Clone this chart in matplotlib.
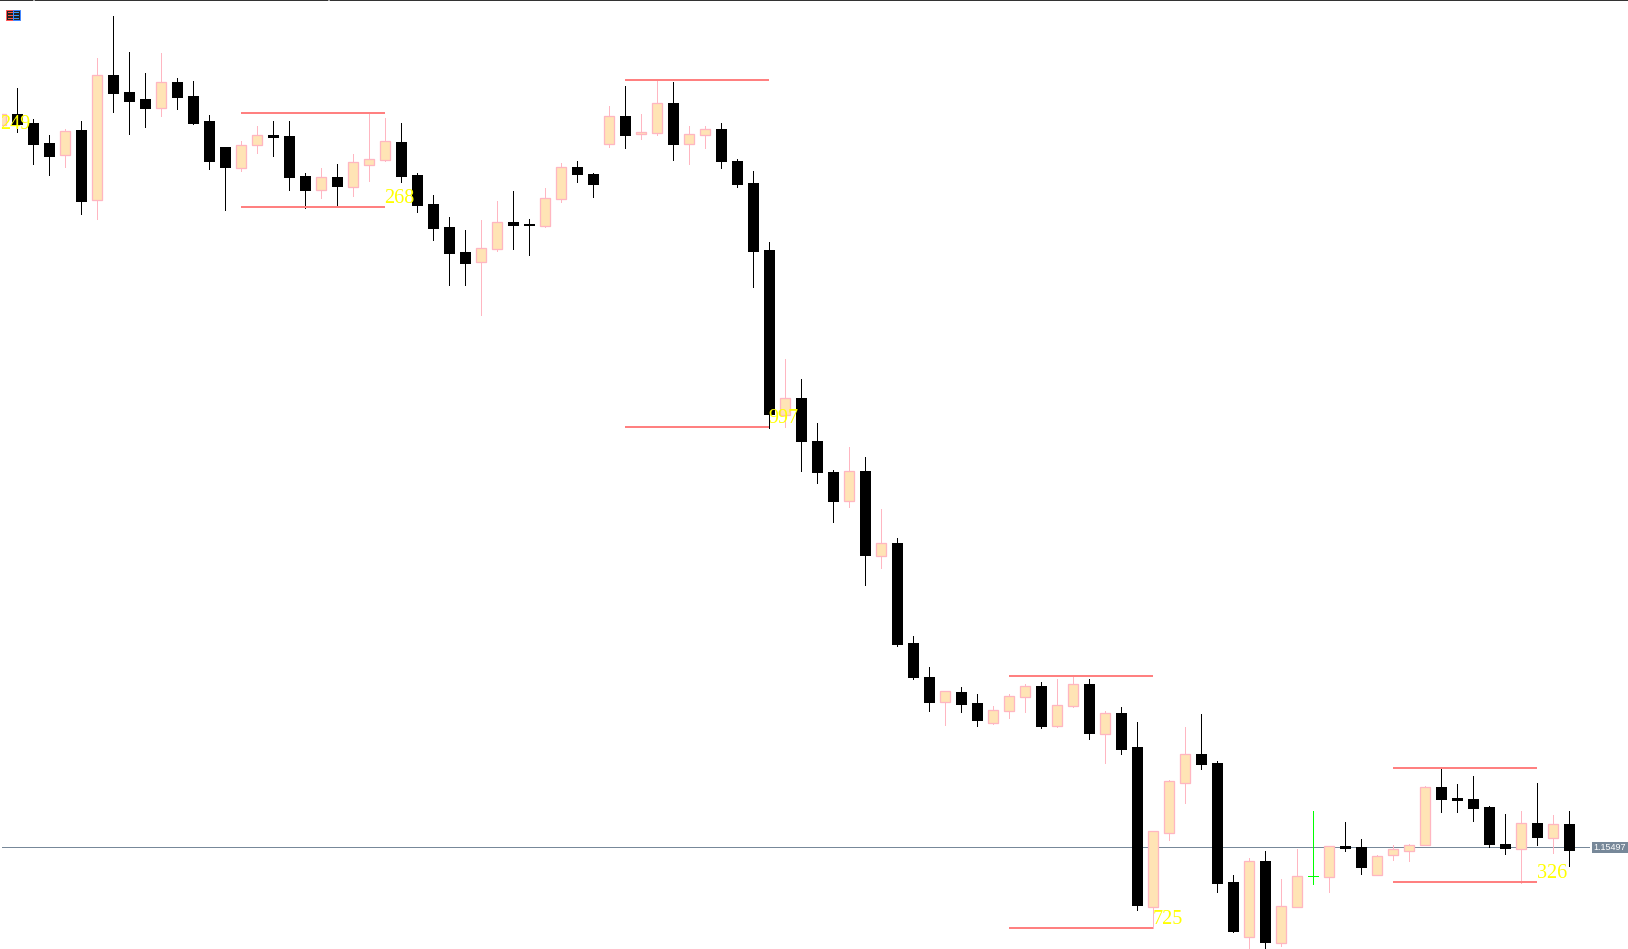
import matplotlib
matplotlib.use("Agg")
import matplotlib.pyplot as plt
from matplotlib.patches import Rectangle

# candle levels (screen rows, so smaller = higher price)
# order: left to right, one value per bar
bull = [1,0,0,0,1,0,1,0,0,0,1,0,0,0,0,1,1,0,0,0,1,0,1,1,1,0,0,0,0,0,1,1,0,0,1,1,0,0,1,0,
        1,1,0,1,1,0,0,0,0,1,0,0,0,1,0,1,0,0,0,1,0,0,1,1,1,0,1,1,0,1,0,0,1,1,1,0,0,0,1,0,
        1,1,2,1,0,0,1,1,1,1,0,0,0,0,0,1,0,1,0]
high = [114,88,119,135,129,121,58,16,52,73,53,78,81,115,147,141,126,121,121,173,
        168,164,154,113,118,123,173,195,217,230,220,201,191,219,188,163,161,173,106,86,
        114,80,82,126,126,123,159,171,242,359,379,423,470,447,457,509,538,636,667,691,
        687,694,706,694,684,682,679,676,679,711,707,722,831,780,727,714,761,875,858,851,
        879,849,811,846,822,839,855,845,844,786,768,784,776,806,814,811,783,815,811]
body_top = [114,114,123,143,131,130,75,75,92,99,82.3,82,96,121,147,145.3,135.3,135,136,176,
            177.3,177,162.3,159.3,141.3,142,175,204,227,252,248.3,222.3,222,224,198.3,167.3,167,174,116.3,116,
            132.3,103.3,103,134.3,129.3,129,161,183,250,398,398,441,472,471.3,471,543.3,543,643,677,691.3,
            692,703,710.3,696.3,686.3,686,705.3,684.3,684,713,713,747,831,781,754,754,763,882,861,861,
            906,876,876,846,846,847,856,849,845,787,787,798,799,807,844,823,823,824,824]
body_bot = [125,125,145,157,155.7,202,200.7,94,102,109,108.7,98,124,162,168,168.7,145.7,138,178,191,
            190.7,187,187.7,165.7,160.7,177,206,229,254,264,262.7,249.7,226,226,226.7,199.7,175,185,144.7,136,
            134.7,133.7,145,144.7,135.7,162,185,252,415,415,442,473,502,501.7,556,556.7,645,678,703,702.7,
            705,721,723.7,711.7,697.7,727,726.7,706.7,734,734,750,906,907,833,783,765,884,932,937,943,
            943,907,876,877,849,868,875,855,851,845,800,801,809,845,849,849,838,838,851]
low = [125,132,164,175,167,214,219,112,134,127,116,109,124,169,210,171,153,156,190,208,
       198,206,196,181,161,182,212,240,285,285,315,251,249,255,227,202,182,197,147,148,
       139,135,160,164,148,168,187,287,428,427,471,483,522,507,585,568,646,679,711,725,
       712,726,724,718,712,728,727,707,739,763,754,910,928,840,803,769,892,932,949,948,
       946,907,884,892,851,874,875,860,861,845,812,812,821,847,854,883,845,853,866]

# rectangles marking the range of the last bars, with size in points
box_start = [15,39,63,87]
box_end = [24,48,72,96]
box_top = [113,80,675.7,768]
box_bottom = [207,427,927.7,882]

label_bar = [0,24,48,72,96]
label_level = [129,203,423,924,878]
label_text = ["249","268","997","725","326"]

bid_level = 847.3
bid_text = "1.15497"

W,H = 1628,949
BAR_PX = 16
PINK = "#ffb6c1"
CREAM = "#ffe4b5"
RED = "#ff8080"
SLATE = "#778899"
px = 72/100  # one pixel in points

fig = plt.figure(figsize=(W/100,H/100),dpi=100,facecolor="white")
ax = fig.add_axes([2/W,0,1-2/W,1])
# bar n sits at pixel 0.5 + 16n
ax.set_xlim((2-0.5)/BAR_PX,(W-0.5)/BAR_PX)
ax.set_ylim(H,0)
ax.axis("off")

n = len(bull)
colors = {0:"black",1:PINK,2:"#00ff00"}
nudge = 1/BAR_PX  # filled bodies snap a pixel left of the wick otherwise
for i in range(n):
    c = colors[bull[i]]
    ax.vlines(i,high[i],low[i],color=c,lw=px,zorder=2,antialiased=False)
    if bull[i]==1:
        ax.bar(i,body_bot[i]-body_top[i]-0.5,10/BAR_PX,bottom=body_top[i],facecolor=CREAM,edgecolor=c,lw=1.3*px,zorder=3)
    elif bull[i]==0:
        ax.bar(i+nudge,body_bot[i]-body_top[i],11/BAR_PX,bottom=body_top[i],facecolor=c,edgecolor="none",zorder=3)
    else:
        ax.hlines(body_top[i],i-5/BAR_PX,i+5/BAR_PX,color=c,lw=px,zorder=3,antialiased=False)

ax.axhline(bid_level,xmax=(1589-2)/(W-2),color=SLATE,lw=px,zorder=1)

ax.hlines(box_top,box_start,box_end,color=RED,lw=2*px,zorder=4)
ax.hlines(box_bottom,box_start,box_end,color=RED,lw=2*px,zorder=4)

for b,y,t in zip(label_bar,label_level,label_text):
    ax.text(b,y,t,color="#ffff00",fontsize=14.5,family="Liberation Serif",ha="left",va="baseline",zorder=5,clip_on=False)

# price tag on the right edge
fig.patches.append(Rectangle((1592/W,1-853/H),36/W,11/H,transform=fig.transFigure,facecolor=SLATE,edgecolor="none"))
fig.text(1610/W,1-847.5/H,bid_text,color="white",fontsize=6.5,family="Liberation Sans",ha="center",va="center")

# window border on top, with two small gaps
fig.patches.append(Rectangle((0,1-1/H),1,1/H,transform=fig.transFigure,facecolor="#333333",edgecolor="none"))
for gx in [33,328]:
    fig.patches.append(Rectangle((gx/W,1-1/H),2/W,1/H,transform=fig.transFigure,facecolor="#aaaaaa",edgecolor="none"))

# small menu icon at top left
fig.patches.append(Rectangle((6/W,1-20/H),7/W,10.5/H,transform=fig.transFigure,facecolor="#222222",edgecolor="#ff5555",lw=px))
fig.patches.append(Rectangle((13/W,1-20/H),7/W,10.5/H,transform=fig.transFigure,facecolor="#222222",edgecolor="#4488ff",lw=px))
for ry in [12,15,18]:
    fig.patches.append(Rectangle((7.5/W,1-(ry+0.5)/H),5/W,1/H,transform=fig.transFigure,facecolor="#ff5544",edgecolor="none"))
    fig.patches.append(Rectangle((14/W,1-(ry+0.5)/H),5/W,1/H,transform=fig.transFigure,facecolor="#3399ff",edgecolor="none"))

fig.savefig("out.png",dpi=100)
